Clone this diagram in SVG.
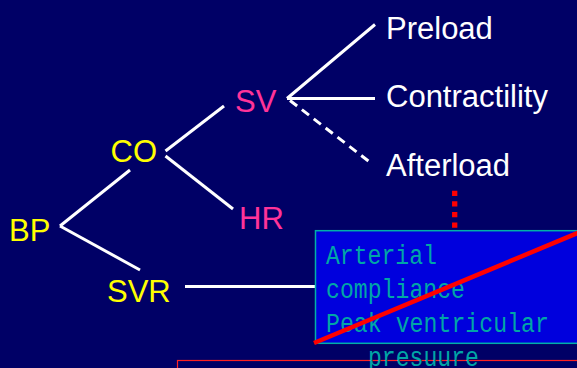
<svg xmlns="http://www.w3.org/2000/svg" width="577" height="368" viewBox="0 0 577 368">
<style>
.lbl{font-family:"Liberation Sans",Arial,sans-serif;font-size:31px}
.y{fill:#FFFF00}.p{fill:#FF3399}.w{fill:#FFFFFF}
.ln{stroke:#FFFFFF;stroke-width:3;fill:none}
.mono{font-family:"Liberation Mono","Courier New",monospace;font-size:27px;fill:#00A6A6}
</style>
<rect width="577" height="368" fill="#000066"/>
<g id="connectors">
<line class="ln" x1="60" y1="226" x2="130" y2="170"/>
<line class="ln" x1="60" y1="226" x2="140" y2="270"/>
<line class="ln" x1="165.5" y1="151" x2="224" y2="106"/>
<line class="ln" x1="165.5" y1="156" x2="233" y2="209"/>
<line class="ln" x1="185" y1="286.5" x2="315" y2="286.5"/>
<line class="ln" x1="287" y1="98.5" x2="375" y2="24.5"/>
<line class="ln" x1="287" y1="98.5" x2="375" y2="98.5"/>
<line class="ln" x1="290" y1="100.5" x2="371" y2="163" stroke-dasharray="9 6"/>
<line x1="454.7" y1="190.7" x2="454.7" y2="228" stroke="#FF0000" stroke-width="5.3" stroke-dasharray="5.3 5.3"/>
</g>
<g id="BP"><text class="lbl y" x="9" y="241">BP</text></g>
<g id="CO"><text class="lbl y" x="110.5" y="162">CO</text></g>
<g id="SVR"><text class="lbl y" x="107" y="302">SVR</text></g>
<g id="SV"><text class="lbl p" x="235" y="112">SV</text></g>
<g id="HR"><text class="lbl p" x="239" y="229">HR</text></g>
<g id="Preload"><text class="lbl w" x="386" y="39">Preload</text></g>
<g id="Contractility"><text class="lbl w" x="386" y="107">Contractility</text></g>
<g id="Afterload"><text class="lbl w" x="386" y="176">Afterload</text></g>
<g id="bottom-box"><rect x="177.5" y="360.5" width="420" height="20" fill="none" stroke="#FF2222" stroke-width="1.2"/></g>
<g id="note">
<rect x="315.5" y="230.7" width="280" height="112.6" fill="#0000DD" stroke="#00B0A8" stroke-width="1.5"/>
<text class="mono" x="326" y="264" textLength="111" lengthAdjust="spacingAndGlyphs">Arterial</text>
<text class="mono" x="326" y="298" textLength="139" lengthAdjust="spacingAndGlyphs">compliance</text>
<text class="mono" x="326" y="332" textLength="223" lengthAdjust="spacingAndGlyphs">Peak ventricular</text>
<text class="mono" x="368" y="366" textLength="111" lengthAdjust="spacingAndGlyphs">presuure</text>
<line x1="314" y1="343" x2="580" y2="232" stroke="#FF0000" stroke-width="4.5"/>
</g>
</svg>
